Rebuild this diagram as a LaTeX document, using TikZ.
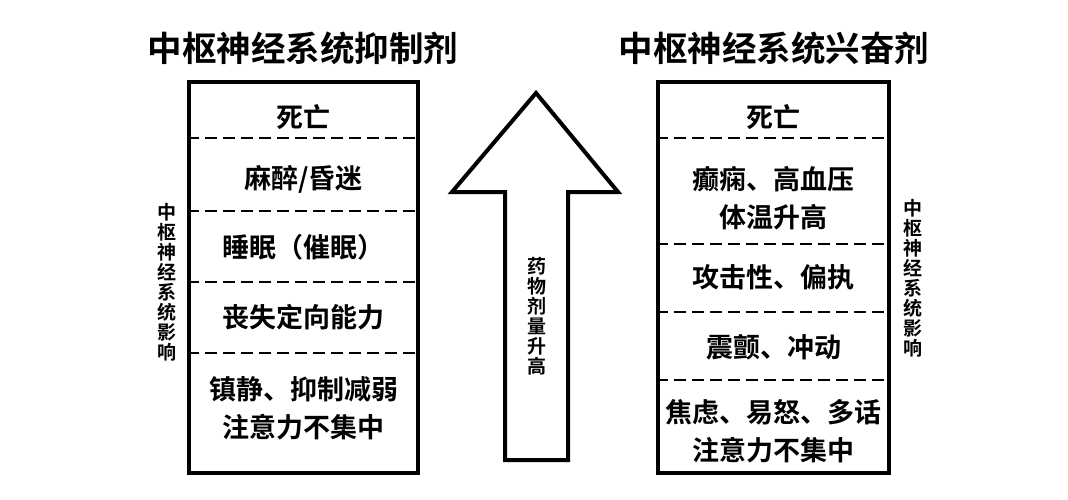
\documentclass[tikz,border=0pt]{standalone}
\usepackage{fontspec}
\newfontfamily\cjk[BoldFont={Noto Sans CJK SC Bold}]{Noto Sans CJK SC}
\tikzset{
  box/.style={draw, line width=4pt, minimum width=229pt, minimum height=391pt, inner sep=0pt},
  sep/.style={dash pattern=on 12pt off 6pt, line width=2pt},
  item/.style={font=\cjk\bfseries\fontsize{27}{38}\selectfont, align=center, inner sep=0pt},
  title/.style={font=\cjk\bfseries\fontsize{34.5}{36}\selectfont, inner sep=0pt},
  side/.style={font=\cjk\bfseries\fontsize{19}{20}\selectfont, align=center, inner sep=0pt},
}
\begin{document}
\begin{tikzpicture}[x=1pt, y=-1pt]
\useasboundingbox (0,0) rectangle (1068,500);
% depressants
\node[title] (ltitle) at (303,48) {中枢神经系统抑制剂};
\node[box] (lbox) at (303.5,277.5) {};
\foreach \y in {138,211,282,353}
    \draw[sep] (lbox.west |- 0,\y) -- (lbox.east |- 0,\y);
\node[item] (ldeath) at (303.5,117) {死亡};
\node[item] (lcoma) at (303.5,179) {麻醉/昏迷};
\node[item] (lsleep) at (303.5,247) {睡眠（催眠）};
\node[item] (ldisor) at (303.5,317) {丧失定向能力};
\node[item] (lsed) at (303.5,408.5) {镇静、抑制减弱\\注意力不集中};
\node[side] (lside) at (167,282) {中\\枢\\神\\经\\系\\统\\影\\响};
% dose arrow
\draw[line width=4pt, line join=miter] (505,460) -- (505,192) -- (452,192) -- (536,93)
    -- (618,192) -- (568,192) -- (568,460) -- cycle;
\node[side] (dose) at (537,316) {药\\物\\剂\\量\\升\\高};
% stimulants
\node[title] (rtitle) at (774,48) {中枢神经系统兴奋剂};
\node[box, minimum width=231pt] (rbox) at (773.5,277.5) {};
\foreach \y in {138,244,312,380}
    \draw[sep] (rbox.west |- 0,\y) -- (rbox.east |- 0,\y);
\node[item] (rdeath) at (773.5,117) {死亡};
\node[item] (rseiz) at (773.5,198) {癫痫、高血压\\体温升高};
\node[item] (raggr) at (773.5,277) {攻击性、偏执};
\node[item] (rtrem) at (773.5,347) {震颤、冲动};
\node[item] (ranx) at (773.5,431) {焦虑、易怒、多话\\注意力不集中};
\node[side] (rside) at (913,278) {中\\枢\\神\\经\\系\\统\\影\\响};
\end{tikzpicture}
\end{document}
